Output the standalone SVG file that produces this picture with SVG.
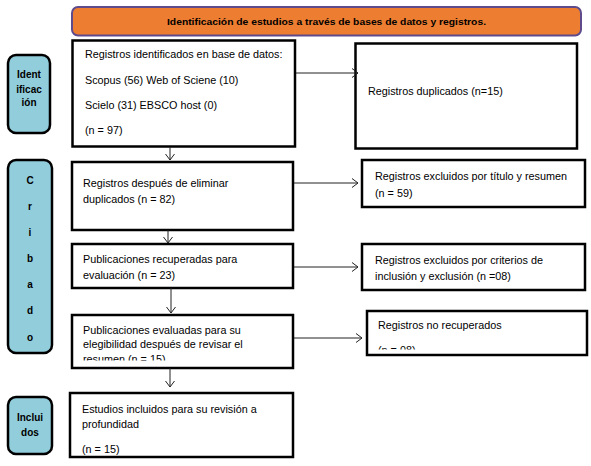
<svg xmlns="http://www.w3.org/2000/svg" width="591" height="466" viewBox="0 0 591 466">
<defs>
<style>
.box{fill:#fff;stroke:#000;stroke-width:2.5}
.side{fill:#92CDDC;stroke:#000;stroke-width:2.5}
.t{font-family:"Liberation Sans",Arial,sans-serif;font-size:10.8px;fill:#000}
.b{font-family:"Liberation Sans",Arial,sans-serif;font-size:10px;font-weight:bold;fill:#000;text-anchor:middle}
.c{fill:none;stroke:#222;stroke-width:1}
</style>
<marker id="arr" markerUnits="userSpaceOnUse" markerWidth="12" markerHeight="12" viewBox="0 0 12 12" refX="10" refY="6" orient="auto">
<path d="M4,1.5 L10,6 L4,10.5" fill="none" stroke="#222" stroke-width="1"/>
</marker>
<clipPath id="clip4"><rect x="72" y="315" width="221" height="45.5"/></clipPath>
<clipPath id="clip7"><rect x="367" y="311" width="220" height="38.5"/></clipPath>
</defs>

<g id="header">
<rect x="72" y="7" width="509" height="28.5" rx="6" fill="#ED7D31" stroke="#5F4B8B" stroke-width="2"/>
<text x="326.5" y="25" class="b" style="font-size:9.8px" textLength="319" lengthAdjust="spacingAndGlyphs">Identificación de estudios a través de bases de datos y registros.</text>
</g>

<g id="lbl-identificacion">
<rect x="8" y="55" width="42" height="78" rx="8" class="side"/>
<text x="29" y="78" class="b">Ident</text>
<text x="29" y="93" class="b">ificac</text>
<text x="29" y="106" class="b">ión</text>
</g>

<g id="lbl-cribado">
<rect x="8" y="160" width="44" height="193" rx="8" class="side"/>
<text x="30" y="184" class="b">C</text>
<text x="30" y="210" class="b">r</text>
<text x="30" y="236" class="b">i</text>
<text x="30" y="262" class="b">b</text>
<text x="30" y="288" class="b">a</text>
<text x="30" y="314" class="b">d</text>
<text x="30" y="341" class="b">o</text>
</g>

<g id="lbl-incluidos">
<rect x="8" y="397" width="44" height="57" rx="8" class="side"/>
<text x="30" y="421" class="b">Inclui</text>
<text x="30" y="436" class="b">dos</text>
</g>

<g id="n-identificados">
<rect x="72.5" y="40.5" width="222.5" height="106" class="box"/>
<text x="85" y="58" class="t">Registros identificados en base de datos:</text>
<text x="85" y="84" class="t">Scopus (56) Web of Sciene (10)</text>
<text x="85" y="109" class="t">Scielo (31) EBSCO host (0)</text>
<text x="85" y="134" class="t">(n = 97)</text>
</g>

<g id="n-duplicados">
<rect x="355.5" y="43.5" width="221.5" height="105" class="box"/>
<text x="368" y="95" class="t">Registros duplicados (n=15)</text>
</g>

<g id="n-eliminar">
<rect x="72" y="162" width="221" height="68" class="box"/>
<text x="83" y="187" class="t">Registros después de eliminar</text>
<text x="83" y="203" class="t">duplicados (n = 82)</text>
</g>

<g id="n-excl-titulo">
<rect x="362" y="160" width="223" height="47" class="box"/>
<text x="375" y="180" class="t">Registros excluidos por título y resumen</text>
<text x="375" y="197" class="t">(n = 59)</text>
</g>

<g id="n-recuperadas">
<rect x="72" y="244" width="221" height="44" class="box"/>
<text x="83" y="263" class="t">Publicaciones recuperadas para</text>
<text x="83" y="279" class="t">evaluación (n = 23)</text>
</g>

<g id="n-excl-criterios">
<rect x="362" y="244" width="223" height="46" class="box"/>
<text x="375" y="264" class="t">Registros excluidos por criterios de</text>
<text x="375" y="280" class="t">inclusión y exclusión (n =08)</text>
</g>

<g id="n-evaluadas">
<rect x="72" y="315" width="221" height="53" class="box"/>
<g clip-path="url(#clip4)">
<text x="83" y="334" class="t">Publicaciones evaluadas para su</text>
<text x="83" y="348" class="t">elegibilidad después de revisar el</text>
<text x="83" y="363" class="t">resumen (n = 15)</text>
</g>
</g>

<g id="n-no-recuperados">
<rect x="367" y="311" width="220" height="44" class="box"/>
<g clip-path="url(#clip7)">
<text x="378" y="329" class="t">Registros no recuperados</text>
<text x="378" y="354" class="t">(n = 08)</text>
</g>
</g>

<g id="n-incluidos">
<rect x="70" y="393" width="223" height="64" class="box"/>
<text x="82" y="413" class="t">Estudios incluidos para su revisión a</text>
<text x="82" y="428" class="t">profundidad</text>
<text x="82" y="453" class="t">(n = 15)</text>
</g>

<g id="connectors">
<line x1="296" y1="73" x2="358" y2="73" class="c" marker-end="url(#arr)"/>
<line x1="170" y1="147" x2="170" y2="160" class="c" marker-end="url(#arr)"/>
<line x1="294" y1="183" x2="358" y2="183" class="c" marker-end="url(#arr)"/>
<line x1="168" y1="230" x2="168" y2="243" class="c" marker-end="url(#arr)"/>
<line x1="294" y1="267" x2="358" y2="267" class="c" marker-end="url(#arr)"/>
<line x1="171" y1="288" x2="171" y2="313" class="c" marker-end="url(#arr)"/>
<line x1="294" y1="338" x2="362" y2="338" class="c" marker-end="url(#arr)"/>
<line x1="170" y1="368" x2="170" y2="387" class="c" marker-end="url(#arr)"/>
</g>
</svg>
